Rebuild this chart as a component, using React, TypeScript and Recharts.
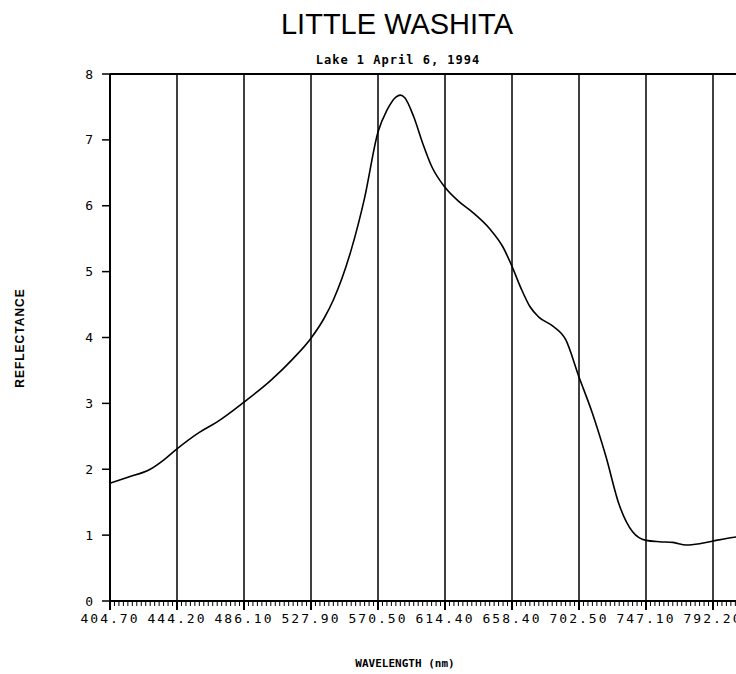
import React from 'react'
import { LineChart, Line, XAxis, YAxis, ReferenceLine } from 'recharts'

// band index along the spectrometer (15 bands between labelled wavelengths)
const bands = [
  0, 4, 9, 12, 15, 20, 24, 30, 36, 41, 45, 48, 50, 54, 57, 60, 62, 64, 65, 66, 68, 70, 72, 75,
  78, 81, 85, 88, 90, 92, 94, 96, 99, 102, 105, 108, 111, 114, 117, 120, 123, 126, 129, 132,
  135, 138, 141,
]
const reflectance = [
  1.79, 1.88, 2.0, 2.14, 2.31, 2.56, 2.72, 3.02, 3.35, 3.68, 3.99, 4.3, 4.57, 5.33, 6.12, 7.12,
  7.45, 7.65, 7.68, 7.64, 7.35, 6.95, 6.6, 6.28, 6.07, 5.91, 5.65, 5.37, 5.08, 4.75, 4.47, 4.31,
  4.18, 3.97, 3.4, 2.85, 2.2, 1.46, 1.05, 0.92, 0.9, 0.89, 0.85, 0.87, 0.91, 0.95, 0.98,
]
const wavelengthLabels = [
  '404.70', '444.20', '486.10', '527.90', '570.50', '614.40', '658.40', '702.50', '747.10', '792.20',
]
const yTicks = [0, 1, 2, 3, 4, 5, 6, 7, 8]

const BANDS_PER_LABEL = 15
const LAST_BAND = 150

const data = bands.map((b, i) => ({ band: b, refl: reflectance[i] }))
const allBands = Array.from({ length: LAST_BAND + 1 }, (_, i) => i)
const majorBands = wavelengthLabels.map((_, i) => i * BANDS_PER_LABEL)

const mono = '"DejaVu Sans Mono", monospace'

function BandTick({ x, y, payload }: any) {
  const i = payload.value
  const major = i % BANDS_PER_LABEL === 0
  const label = major ? wavelengthLabels[i / BANDS_PER_LABEL] : undefined
  return (
    <g>
      <line x1={x} y1={y} x2={x} y2={y + (major ? 9 : 5)} stroke="#000" strokeWidth={major ? 2 : 1} />
      {label && (
        <text x={x} y={y + 22} textAnchor="middle" fontFamily={mono} fontSize={13} letterSpacing={2} fill="#000">
          {label}
        </text>
      )}
    </g>
  )
}

export default function App() {
  return (
    <div style={{ position: 'fixed', left: 0, top: 0, width: 736, height: 674, overflow: 'hidden', background: '#fff' }}>
      <LineChart width={780} height={674} data={data} margin={{ top: 74, right: 0, bottom: 0, left: 0 }}>
        <XAxis
          dataKey="band"
          type="number"
          domain={[0, LAST_BAND]}
          ticks={allBands}
          interval={0}
          height={73}
          tickSize={0}
          tickMargin={0}
          tickLine={false}
          axisLine={{ stroke: '#000', strokeWidth: 2 }}
          tick={<BandTick />}
        />
        <YAxis
          type="number"
          domain={[0, 8]}
          ticks={yTicks}
          width={110}
          tickSize={8}
          tickMargin={9}
          axisLine={{ stroke: '#000', strokeWidth: 2 }}
          tickLine={{ stroke: '#000', strokeWidth: 1.5 }}
          tick={{ fill: '#000', fontSize: 13, fontFamily: mono }}
        />
        {majorBands.map((b) => (
          <ReferenceLine key={b} x={b} stroke="#000" strokeWidth={1.5} />
        ))}
        <ReferenceLine y={8} stroke="#000" strokeWidth={2} />
        <Line
          type="monotone"
          dataKey="refl"
          stroke="#000"
          strokeWidth={1.6}
          dot={false}
          isAnimationActive={false}
        />
      </LineChart>
      <svg width={736} height={674} style={{ position: 'absolute', left: 0, top: 0, pointerEvents: 'none' }}>
        <text x={397} y={34} textAnchor="middle" fontFamily='"Liberation Sans", sans-serif' fontSize={29} fill="#000">
          LITTLE WASHITA
        </text>
        <text x={398} y={64} textAnchor="middle" fontFamily={mono} fontWeight="bold" fontSize={12} letterSpacing={1} fill="#000">
          Lake 1  April 6, 1994
        </text>
        <text x={405} y={667} textAnchor="middle" fontFamily={mono} fontWeight="bold" fontSize={11} fill="#000">
          WAVELENGTH (nm)
        </text>
        <text
          x={24}
          y={338}
          transform="rotate(-90 24 338)"
          textAnchor="middle"
          fontFamily='"Liberation Sans", sans-serif'
          fontWeight="bold"
          fontSize={12}
          letterSpacing={1}
          fill="#000"
        >
          REFLECTANCE
        </text>
      </svg>
    </div>
  )
}
